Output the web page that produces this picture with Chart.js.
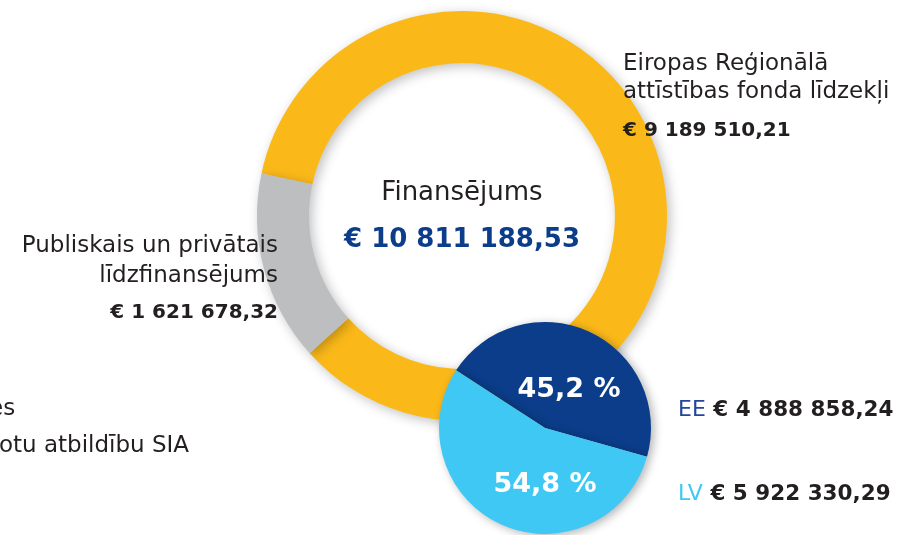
<!DOCTYPE html>
<html>
<head>
<meta charset="utf-8">
<script src="https://cdn.jsdelivr.net/npm/chart.js@4"></script>
<style>
  html, body { margin: 0; padding: 0; background: #fff; overflow: hidden; }
  #wrap { position: relative; width: 902px; height: 535px; font-family: "DejaVu Sans", sans-serif; color: #231f20; }
  canvas { position: absolute; left: 0; top: 0; }
  .t { position: absolute; white-space: nowrap; line-height: 1; }
</style>
</head>
<body>
<div id="wrap">
  <canvas id="ringChart" width="902" height="535"></canvas>
  <canvas id="pieChart" width="902" height="535"></canvas>
</div>
<script>
// Funding split (outer ring)
const fundLabels = ['Eiropas Reģionālā attīstības fonda līdzekļi', 'Publiskais un privātais līdzfinansējums'];
const fundValues = [9189510.21, 1621678.32];
const fundColors = ['#fbb919', '#bcbec0'];

// Split by country (small pie)
const countryLabels = ['EE', 'LV'];
const countryValues = [4888858.24, 5922330.29];
const countryColors = ['#0b3d8a', '#40c8f4'];

const totalLabel = 'Finansējums';

// "€ 9 189 510,21"
function euro(v) {
  const parts = v.toFixed(2).split('.');
  return '€ ' + parts[0].replace(/\B(?=(\d{3})+(?!\d))/g, ' ') + ',' + parts[1];
}
function pct(v, sum) {
  return (v / sum * 100).toFixed(1).replace('.', ',') + ' %';
}

const total = fundValues.reduce((a, b) => a + b, 0);
const countryTotal = countryValues.reduce((a, b) => a + b, 0);

// soft drop shadow under the arcs
const shadowPlugin = {
  id: 'shadow',
  beforeDatasetsDraw(chart, args, opts) {
    const c = chart.ctx;
    c.save();
    c.shadowColor = opts.color;
    c.shadowBlur = opts.blur;
    c.shadowOffsetX = opts.x;
    c.shadowOffsetY = opts.y;
  },
  afterDatasetsDraw(chart) {
    chart.ctx.restore();
  }
};

new Chart(document.getElementById('ringChart').getContext('2d'), {
  type: 'doughnut',
  data: {
    labels: fundLabels,
    datasets: [{
      data: fundValues,
      backgroundColor: fundColors,
      borderWidth: 0
    }]
  },
  options: {
    responsive: false,
    animation: false,
    radius: 205,
    cutout: '74.6%',
    rotation: 282,
    layout: { padding: { left: 22, right: 0, top: 0, bottom: 103 } },
    plugins: {
      legend: { display: false },
      tooltip: { enabled: false },
      shadow: { color: 'rgba(0,0,0,0.25)', blur: 12, x: 3, y: 3 }
    }
  },
  plugins: [shadowPlugin]
});

new Chart(document.getElementById('pieChart').getContext('2d'), {
  type: 'pie',
  data: {
    labels: countryLabels,
    datasets: [{
      data: countryValues,
      backgroundColor: countryColors,
      borderWidth: 0
    }]
  },
  options: {
    responsive: false,
    animation: false,
    radius: 106,
    rotation: -57,
    layout: { padding: { left: 188, right: 0, top: 321, bottom: 0 } },
    plugins: {
      legend: { display: false },
      tooltip: { enabled: false },
      shadow: { color: 'rgba(0,0,0,0.3)', blur: 10, x: 3, y: 2 }
    }
  },
  plugins: [shadowPlugin]
});

// text labels, placed by baseline
const wrap = document.getElementById('wrap');
function addText(html, x, base, size, align, css) {
  const d = document.createElement('div');
  d.className = 't';
  d.innerHTML = html;
  d.style.fontSize = size + 'px';
  d.style.top = (base - 0.846 * size) + 'px';
  if (align === 'right') {
    d.style.right = (902 - x) + 'px';
  } else if (align === 'center') {
    d.style.left = (x - 200) + 'px';
    d.style.width = '400px';
    d.style.textAlign = 'center';
  } else {
    d.style.left = x + 'px';
  }
  Object.assign(d.style, css || {});
  wrap.appendChild(d);
}
const bold = { fontWeight: '700' };

addText(totalLabel, 462, 200, 26, 'center');
addText(euro(total), 462, 247, 26, 'center', { fontWeight: '700', color: '#0b3d8a' });

addText('Eiropas Reģionālā', 623, 70, 23);
addText('attīstības fonda līdzekļi', 623, 98, 23);
addText(euro(fundValues[0]), 623, 136, 20, 'left', bold);

addText('Publiskais un privātais', 278, 252, 23, 'right');
addText('līdzfinansējums', 278, 282, 23, 'right');
addText(euro(fundValues[1]), 278, 318, 20, 'right', bold);

addText('es', -11, 415, 23);
addText('otu atbildību SIA', -1, 452, 23);

function countryLine(i) {
  const color = i === 0 ? '#24479a' : countryColors[1];
  return '<span style="font-weight:400;font-size:22px;color:' + color + '">' + countryLabels[i] + '</span> ' + euro(countryValues[i]);
}
addText(countryLine(0), 678, 416, 21.5, 'left', bold);
addText(countryLine(1), 678, 500, 21.5, 'left', bold);

addText(pct(countryValues[0], countryTotal), 569, 397, 27, 'center', { fontWeight: '700', color: '#fff' });
addText(pct(countryValues[1], countryTotal), 545, 492, 27, 'center', { fontWeight: '700', color: '#fff' });
</script>
</body>
</html>
